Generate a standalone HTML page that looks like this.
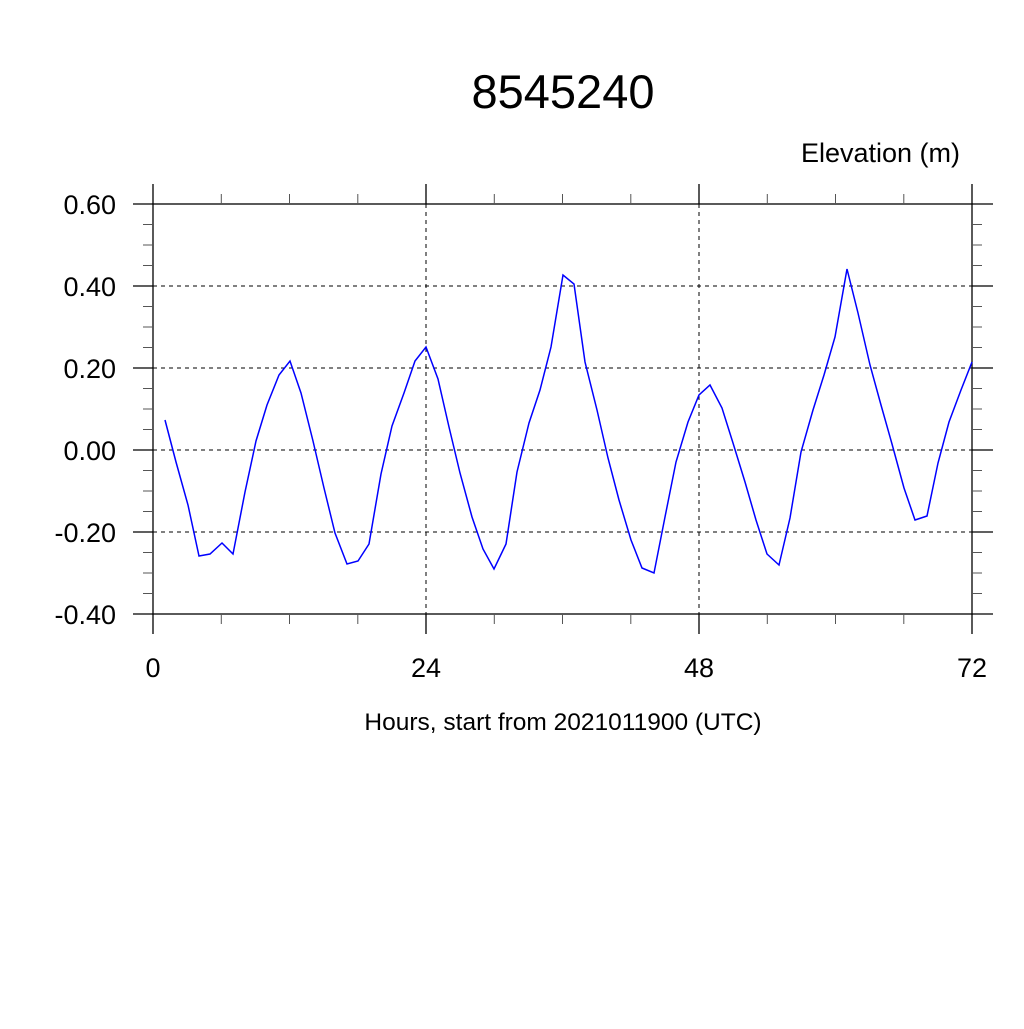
<!DOCTYPE html>
<html><head><style>body{margin:0;background:#fff}</style></head><body>
<svg width="1024" height="1024" xmlns="http://www.w3.org/2000/svg" font-family="Liberation Sans, sans-serif">
<rect width="1024" height="1024" fill="#fff"/>
<text x="563" y="108" font-size="47" text-anchor="middle">8545240</text>
<text x="960" y="162" font-size="27" text-anchor="end">Elevation (m)</text>
<g stroke="#000" stroke-width="1" stroke-dasharray="4,4">
<line x1="153" y1="286" x2="972" y2="286"/><line x1="153" y1="368" x2="972" y2="368"/>
<line x1="153" y1="450" x2="972" y2="450"/><line x1="153" y1="532" x2="972" y2="532"/>
<line x1="426" y1="204" x2="426" y2="614"/><line x1="699" y1="204" x2="699" y2="614"/>
</g>
<g stroke="#000" stroke-width="1.3">
<rect x="153" y="204" width="819" height="410" fill="none"/>
<path d="M133 204h20M133 286h20M133 368h20M133 450h20M133 532h20M133 614h20M972 204h21M972 286h21M972 368h21M972 450h21M972 532h21M972 614h21M153 184v20M426 184v20M699 184v20M972 184v20M153 614v20M426 614v20M699 614v20M972 614v20"/>
</g>
<g stroke="#555" stroke-width="1">
<path d="M143 224.5h10M143 245h10M143 265.5h10M143 306.5h10M143 327h10M143 347.5h10M143 388.5h10M143 409h10M143 429.5h10M143 470.5h10M143 491h10M143 511.5h10M143 552.5h10M143 573h10M143 593.5h10M972 224.5h10M972 245h10M972 265.5h10M972 306.5h10M972 327h10M972 347.5h10M972 388.5h10M972 409h10M972 429.5h10M972 470.5h10M972 491h10M972 511.5h10M972 552.5h10M972 573h10M972 593.5h10"/>
<path d="M221.3 194v10M289.5 194v10M357.8 194v10M494.3 194v10M562.5 194v10M630.8 194v10M767.3 194v10M835.5 194v10M903.8 194v10M221.3 614v10M289.5 614v10M357.8 614v10M494.3 614v10M562.5 614v10M630.8 614v10M767.3 614v10M835.5 614v10M903.8 614v10"/>
</g>
<g font-size="27" text-anchor="end">
<text x="116" y="214">0.60</text><text x="116" y="296">0.40</text><text x="116" y="378">0.20</text>
<text x="116" y="460">0.00</text><text x="116" y="542">-0.20</text><text x="116" y="624">-0.40</text>
</g>
<g font-size="27" text-anchor="middle">
<text x="153" y="677">0</text><text x="426" y="677">24</text><text x="699" y="677">48</text><text x="972" y="677">72</text>
</g>
<text x="563" y="730" font-size="24.5" text-anchor="middle">Hours, start from 2021011900 (UTC)</text>
<polyline fill="none" stroke="#0000ff" stroke-width="1.5" points="165,420 176,462 188,505 199,556 210,554 222,543 233,554 245,492 256,441 267,405 279,375 290,361 301,393 313,441 324,488 335,533 347,564 358,561 369,544 381,474 392,426 404,393 415,361 426,347 438,379 449,427 460,473 472,517 483,549 494,569 506,544 517,472 529,423 540,390 551,347 563,275 574,284 585,362 597,410 608,458 619,500 631,540 642,568 654,573 665,517 676,462 688,422 699,395 710,385 722,408 733,443 745,482 756,520 767,554 779,565 790,518 801,452 813,410 824,375 835,337 847,269 858,313 870,365 881,405 892,444 904,488 915,520 927,516 938,463 949,422 961,390 972,362"/>
</svg>
</body></html>
